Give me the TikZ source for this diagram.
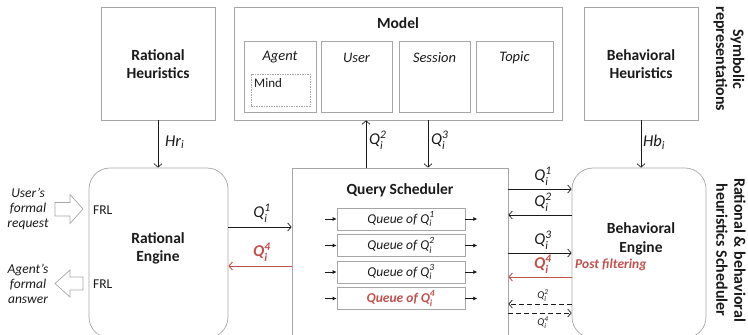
\documentclass[tikz,border=0pt]{standalone}
\usepackage{fontspec}
\usepackage{amsmath}
\setmainfont{Carlito}
\usetikzlibrary{arrows.meta}
\definecolor{bord}{HTML}{A6A6A6}
\definecolor{redq}{HTML}{C0504D}
\definecolor{ink}{HTML}{1A1A1A}
\newcommand\QQ[2]{$\text{#1}_{\text{i}}^{\text{#2}}$}
\newcommand\fsz[1]{\fontsize{#1}{#1}\selectfont}
\begin{document}
\begin{tikzpicture}[x=1pt,y=-1pt,
  box/.style={draw=bord, line width=0.7pt, rectangle, inner sep=0pt},
  engine/.style={draw=bord, line width=0.7pt, rectangle, rounded corners=21pt, inner sep=0pt},
  title/.style={font=\fsz{15.5}\bfseries, align=center, text=ink, inner sep=0pt},
  itl/.style={font=\fsz{14.5}\itshape, text=ink, inner sep=0pt},
  qlab/.style={font=\fsz{16.5}\itshape, text=ink, inner sep=0pt},
  qred/.style={font=\fsz{16.5}\bfseries\itshape, text=redq, inner sep=0pt},
  qsmall/.style={font=\fsz{10.5}\itshape, text=ink, inner sep=0pt},
  conn/.style={draw=ink, line width=0.7pt, -{Straight Barb[length=3.5pt,width=8pt]}},
  redconn/.style={draw=redq, line width=0.9pt, -{Straight Barb[length=3.5pt,width=8pt]}},
  dconn/.style={conn, dash pattern=on 5pt off 3pt},
  small/.style={draw=ink, line width=0.7pt, -{Latex[length=4pt,width=4pt]}},
  queue/.style={box, minimum width=128pt, minimum height=22pt, font=\fsz{13.5}\itshape, text=ink},
  fat/.style={draw=bord, line width=0.7pt},
  side/.style={font=\fsz{16}\bfseries, align=center, text=ink, rotate=-90, inner sep=0pt}
]
\useasboundingbox (0,0) rectangle (748,335);
\begin{scope}
\clip (0,0) rectangle (748,335);

% top row
\node[box, minimum width=114pt, minimum height=113pt] (rh) at (158,63.5) {};
\node[title] (rhl) at (158,64) {Rational\\[2.5pt]Heuristics};
\node[box, minimum width=328pt, minimum height=113pt] (model) at (398,63.5) {};
\node[title] (modl) at (398,23) {Model};
\node[box, minimum width=72pt, minimum height=71pt] (agent) at (280,76.5) {};
\node[box, minimum width=71pt, minimum height=71pt] (user) at (356.5,76.5) {};
\node[box, minimum width=71pt, minimum height=71pt] (session) at (434.5,76.5) {};
\node[box, minimum width=77pt, minimum height=71pt] (topic) at (514.5,76.5) {};
\node[itl] (agl) at (280,57.5) {Agent};
\node[itl] (usl) at (356.5,57.5) {User};
\node[itl] (sel) at (434.5,57.5) {Session};
\node[itl] (tol) at (514.5,57.5) {Topic};
\node[draw=bord, line width=0.5pt, dash pattern=on 1.5pt off 1pt, minimum width=59pt, minimum height=32pt, inner sep=0pt] (mind) at (280.5,90) {};
\node[font=\fsz{13}, text=ink, anchor=west, inner sep=0pt] (mindl) at (254,83) {Mind};
\node[box, minimum width=114pt, minimum height=113pt] (bh) at (641,63.5) {};
\node[title] (bhl) at (641,64) {Behavioral\\[2.5pt]Heuristics};
\node[side] (sym) at (729,59) {Symbolic\\[1pt]representations};

% bottom row
\node[engine, minimum width=139pt, minimum height=170pt] (re) at (158.5,253) {};
\node[title] (rel) at (158,248) {Rational\\[2.5pt]Engine};
\node[box, minimum width=216pt, minimum height=180pt] (qs) at (400,258) {};
\node[title] (qsl) at (400,190) {Query Scheduler};
\node[engine, minimum width=134pt, minimum height=170pt] (be) at (639,253) {};
\node[title] (bel) at (641,239) {Behavioral\\[3pt]Engine};
\node[side] (rbs) at (731,250) {Rational \& behavioral\\[2pt]heuristics Scheduler};

% queues
\node[queue] (q1) at (401,219) {Queue of \QQ{Q}{1}};
\node[queue] (q2) at (401,245.5) {Queue of \QQ{Q}{2}};
\node[queue] (q3) at (401,272) {Queue of \QQ{Q}{3}};
\node[queue, text=redq, font=\fsz{13.5}\bfseries\itshape] (q4) at (401,298.5) {Queue of \QQ{Q}{4}};
\foreach \q in {q1,q2,q3,q4}{
  \draw[small] ([xshift=-12pt]\q.west) -- (\q.west);
  \draw[small] (\q.east) -- ([xshift=12pt]\q.east);
}

% FRL and fat arrows
\node[font=\fsz{13.5}, text=ink, anchor=west, inner sep=0pt] (frl1) at (93,210) {FRL};
\node[font=\fsz{13.5}, text=ink, anchor=west, inner sep=0pt] (frl2) at (93,284) {FRL};
\draw[fat] (55,202.5) -- (70,202.5) -- (70,194.5) -- (83,209) -- (70,223.5) -- (70,216) -- (55,216) -- cycle;
\draw[fat] (83,277) -- (70,277) -- (70,270) -- (55,283.5) -- (70,297) -- (70,290) -- (83,290) -- cycle;
\node[font=\fsz{13.5}\itshape, align=center, text=ink, inner sep=0pt] (req) at (28,209) {User’s\\[1.5pt]formal\\[1.5pt]request};
\node[font=\fsz{13.5}\itshape, align=center, text=ink, inner sep=0pt] (ans) at (28,283.5) {Agent’s\\[1.5pt]formal\\[1.5pt]answer};

% vertical connectors
\coordinate (x2) at (366,0);
\coordinate (x3) at (428,0);
\draw[conn] (rh.south |- rh.south) -- (rh.south |- re.north);
\draw[conn] (x2 |- qs.north) -- (x2 |- model.south);
\draw[conn] (x3 |- model.south) -- (x3 |- qs.north);
\draw[conn] (bh.south) -- (bh.south |- be.north);
\node[qlab, anchor=west] (hrl) at (165,142) {$\text{Hr}_{\text{i}}$};
\node[qlab, anchor=west] (q2l) at (369,140) {\QQ{Q}{2}};
\node[qlab, anchor=west] (q3l) at (431,140) {\QQ{Q}{3}};
\node[qlab, anchor=west] (hbl) at (643,142) {$\text{Hb}_{\text{i}}$};

% left connectors
\coordinate (yl1) at (0,227);
\coordinate (yl4) at (0,266);
\draw[conn] (re.east |- yl1) -- (qs.west |- yl1);
\draw[redconn] (qs.west |- yl4) -- (re.east |- yl4);
\node[qlab] (l1) at (262,213) {\QQ{Q}{1}};
\node[qred] (l4) at (262,252) {\QQ{Q}{4}};

% right connectors
\coordinate (yr1) at (0,189);
\coordinate (yr2) at (0,215);
\coordinate (yr3) at (0,253);
\coordinate (yr4) at (0,277);
\coordinate (yr5) at (0,304);
\coordinate (yr6) at (0,313);
\draw[conn] (qs.east |- yr1) -- (be.west |- yr1);
\draw[conn] (be.west |- yr2) -- (qs.east |- yr2);
\draw[conn] (qs.east |- yr3) -- (be.west |- yr3);
\draw[redconn] (be.west |- yr4) -- (qs.east |- yr4);
\draw[dconn] (be.west |- yr5) -- (qs.east |- yr5);
\draw[dconn] (qs.east |- yr6) -- (be.west |- yr6);
\node[qlab] (r1) at (543,176) {\QQ{Q}{1}};
\node[qlab] (r2) at (543,202) {\QQ{Q}{2}};
\node[qlab] (r3) at (543,240) {\QQ{Q}{3}};
\node[qred] (r4) at (543,264) {\QQ{Q}{4}};
\node[qsmall] (r5) at (543,295.5) {\QQ{Q}{2}};
\node[qsmall] (r6) at (543,322.5) {\QQ{Q}{4}};
\node[font=\fsz{13.5}\bfseries\itshape, text=redq, anchor=west, inner sep=0pt] (pf) at (575,265) {Post filtering};
\end{scope}
\end{tikzpicture}
\end{document}
